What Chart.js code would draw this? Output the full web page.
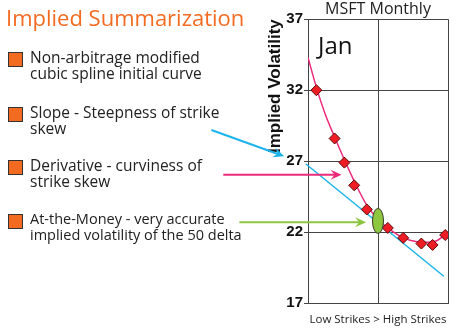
<!DOCTYPE html>
<html>
<head>
<meta charset="utf-8">
<script src="https://cdn.jsdelivr.net/npm/chart.js@4.4.0/dist/chart.umd.min.js"></script>
<style>
body { margin:0; background:#fff; }
#wrap { position:relative; width:459px; height:330px; overflow:hidden; font-family:"Open Sans", sans-serif; }
#chart { position:absolute; left:0; top:0; }
.t { position:absolute; color:#222; white-space:nowrap; }
#head { left:6px; top:2px; font-size:22px; color:#f26b21; }
.item { position:absolute; left:8px; font-size:15.5px; line-height:16px; color:#222; }
.item .sq { position:absolute; left:0; top:1px; width:13px; height:13px; background:#f26b21; border:1px solid #333; }
.item .lbl { position:absolute; left:22px; top:-2px; white-space:nowrap; }
#jan { left:318px; top:28px; font-size:24px; color:#111; }
</style>
</head>
<body>
<div id="wrap">
<canvas id="chart" width="459" height="330"></canvas>
<div class="t" id="head">Implied Summarization</div>
<div class="item" style="top:51px"><div class="sq"></div><div class="lbl">Non-arbitrage modified<br>cubic spline initial curve</div></div>
<div class="item" style="top:106px"><div class="sq"></div><div class="lbl">Slope - Steepness of strike<br>skew</div></div>
<div class="item" style="top:159px"><div class="sq"></div><div class="lbl">Derivative - curviness of<br>strike skew</div></div>
<div class="item" style="top:213px;font-size:14.5px"><div class="sq"></div><div class="lbl">At-the-Money - very accurate<br>implied volatility of the 50 delta</div></div>
<div class="t" id="jan">Jan</div>
</div>
<script>
// market quotes (strike position, implied vol)
const strikePos = [0.6, 1.9, 2.6, 3.3, 4.2, 5.7, 6.8, 8.1, 8.9, 9.8];
const impliedVol = [32.0, 28.6, 26.9, 25.3, 23.6, 22.3, 21.6, 21.2, 21.1, 21.8];

// fitted spline curve
const splineX = [0, 0.6, 1.2, 1.9, 2.6, 3.3, 4.2, 5.0, 5.7, 6.8, 7.7, 8.6, 9.2, 9.9];
const splineY = [34.3, 32.2, 30.4, 28.7, 27.1, 25.6, 23.9, 22.9, 22.3, 21.6, 21.35, 21.3, 21.4, 21.9];

// slope line at the money
const slopeX = [-0.15, 9.7];
const slopeY = [26.8, 18.9];

// at-the-money point
const atmX = [5.0];
const atmY = [22.8];

const yTicks = [17, 22, 27, 32, 37];

// pointer arrows, in chart units: [x, y]
const arrowNames = ['slope', 'derivative', 'atm'];
const arrowFrom = [[-6.9, 29.2], [-6.05, 26.05], [-4.9, 22.7]];
const arrowTo = [[-1.7, 27.35], [2.4, 26.05], [4.15, 22.7]];
const arrowColors = ['#1cb4ea', '#ec2a7c', '#8cc63f'];

function pts(xs, ys) {
  return xs.map((x, i) => ({ x: x, y: ys[i] }));
}

// green ellipse marker
const ell = document.createElement('canvas');
ell.width = 14; ell.height = 28;
const ec = ell.getContext('2d');
ec.beginPath();
ec.ellipse(7, 14, 5.5, 12.5, 0, 0, Math.PI * 2);
ec.fillStyle = '#8dc63f';
ec.fill();
ec.lineWidth = 1;
ec.strokeStyle = '#3a3a2a';
ec.stroke();

const arrowPlugin = {
  id: 'arrows',
  afterDatasetsDraw(chart) {
    const c = chart.ctx, sx = chart.scales.x, sy = chart.scales.y;
    c.save();
    arrowNames.forEach((n, i) => {
      const x1 = sx.getPixelForValue(arrowFrom[i][0]), y1 = sy.getPixelForValue(arrowFrom[i][1]);
      const x2 = sx.getPixelForValue(arrowTo[i][0]), y2 = sy.getPixelForValue(arrowTo[i][1]);
      const a = Math.atan2(y2 - y1, x2 - x1);
      c.strokeStyle = arrowColors[i];
      c.fillStyle = arrowColors[i];
      c.lineWidth = 2;
      c.beginPath();
      c.moveTo(x1, y1);
      c.lineTo(x2 - 6 * Math.cos(a), y2 - 6 * Math.sin(a));
      c.stroke();
      c.beginPath();
      c.moveTo(x2, y2);
      c.lineTo(x2 - 11 * Math.cos(a) + 5 * Math.sin(a), y2 - 11 * Math.sin(a) - 5 * Math.cos(a));
      c.lineTo(x2 - 7 * Math.cos(a), y2 - 7 * Math.sin(a));
      c.lineTo(x2 - 11 * Math.cos(a) - 5 * Math.sin(a), y2 - 11 * Math.sin(a) + 5 * Math.cos(a));
      c.closePath();
      c.fill();
    });
    c.restore();
  }
};

const ctx = document.getElementById('chart').getContext('2d');
new Chart(ctx, {
  type: 'scatter',
  data: {
    datasets: [
      {
        label: 'atm',
        data: pts(atmX, atmY),
        pointStyle: ell,
        pointRadius: 10
      },
      {
        label: 'quotes',
        data: pts(strikePos, impliedVol),
        pointStyle: 'rectRot',
        pointRadius: 5.5,
        backgroundColor: '#ee1c25',
        borderColor: '#5a0a0a',
        borderWidth: 1
      },
      {
        label: 'spline',
        data: pts(splineX, splineY),
        showLine: true,
        borderColor: '#ec2a7c',
        borderWidth: 1.5,
        tension: 0.4,
        cubicInterpolationMode: 'monotone',
        pointRadius: 0
      },
      {
        label: 'slope',
        data: pts(slopeX, slopeY),
        showLine: true,
        clip: false,
        borderColor: '#1cb4ea',
        borderWidth: 1.5,
        pointRadius: 0
      }
    ]
  },
  options: {
    responsive: false,
    animation: false,
    layout: { padding: { left: 262, right: 6, top: 0, bottom: 3 } },
    plugins: {
      legend: { display: false },
      tooltip: { enabled: false },
      title: { display: false }
    },
    scales: {
      x: {
        type: 'linear',
        min: 0,
        max: 10,
        ticks: { display: false, stepSize: 5 },
        grid: { color: '#444', drawTicks: false },
        border: { color: '#444' },
        title: {
          display: true,
          text: 'Low Strikes > High Strikes',
          color: '#222',
          font: { family: 'Open Sans', size: 11.5 },
          padding: { top: 10, bottom: 0 }
        }
      },
      x2: {
        type: 'linear',
        position: 'top',
        min: 0,
        max: 10,
        ticks: { display: false },
        grid: { display: false, drawTicks: false },
        border: { display: false },
        title: {
          display: true,
          text: 'MSFT Monthly',
          color: '#222',
          font: { family: 'Open Sans', size: 16 },
          padding: { top: 0, bottom: 0 }
        }
      },
      y: {
        min: 17,
        max: 37,
        afterBuildTicks(s) { s.ticks = yTicks.map(v => ({ value: v })); },
        afterFit(s) { s.width = 46; },
        ticks: {
          color: '#111',
          padding: 1,
          font: { family: 'Liberation Sans', size: 15, weight: 'bold' }
        },
        grid: { color: '#444', tickLength: 4 },
        border: { color: '#444' },
        title: {
          display: true,
          text: 'Implied Volatility',
          align: 'end',
          color: '#111',
          font: { family: 'Liberation Sans', size: 17, weight: 'bold' },
          padding: { top: 3, bottom: 0 }
        }
      }
    }
  },
  plugins: [arrowPlugin]
});
</script>
</body>
</html>
